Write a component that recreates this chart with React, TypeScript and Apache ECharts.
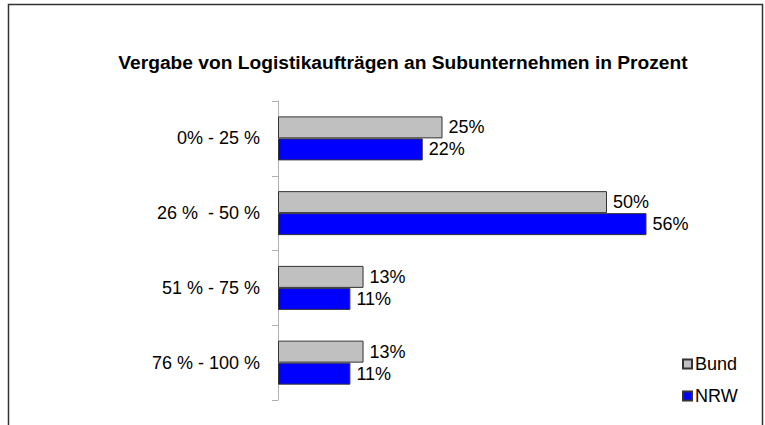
import React, { useEffect, useRef } from "react";
import * as echarts from "echarts";

const categories = ["0% - 25 %", "26 %  - 50 %", "51 % - 75 %", "76 % - 100 %"];
const bundValues = [25, 50, 13, 13];
const nrwValues = [22, 56, 11, 11];
const seriesNames = ["Bund", "NRW"];
const titleText = "Vergabe von Logistikaufträgen an Subunternehmen in Prozent";

export default function App() {
  const ref = useRef<HTMLDivElement>(null);
  useEffect(() => {
    if (!ref.current) return;
    const chart = echarts.init(ref.current, null, { renderer: "svg" });
    const font = "'Liberation Sans', Arial, sans-serif";
    const labelCfg = {
      show: true,
      position: "right",
      distance: 6,
      formatter: "{c}%",
      color: "#000",
      fontSize: 18,
      fontFamily: font,
    };
    chart.setOption({
      animation: false,
      backgroundColor: "#fff",
      title: {
        text: titleText,
        left: 398,
        textAlign: "center",
        top: 48,
        textStyle: { fontSize: 19.2, fontWeight: "bold", color: "#000", fontFamily: font },
      },
      legend: {
        orient: "vertical",
        left: 677,
        top: 350,
        itemWidth: 9,
        itemHeight: 9,
        itemGap: 14,
        icon: "rect",
        textStyle: { fontSize: 18, color: "#000", fontFamily: font, padding: [0, 0, 0, -2] },
        data: seriesNames,
      },
      grid: { left: 278, top: 101, height: 299, width: 394.8 },
      xAxis: {
        type: "value",
        min: 0,
        max: 60,
        show: false,
      },
      yAxis: {
        type: "category",
        inverse: true,
        data: categories,
        axisLine: { show: true, lineStyle: { color: "#B0B0B0", width: 1 } },
        axisTick: { show: true, length: 6, lineStyle: { color: "#B0B0B0" } },
        axisLabel: { margin: 18, fontSize: 18, color: "#000", fontFamily: font },
        splitLine: { show: false },
      },
      series: [
        {
          name: seriesNames[0],
          type: "bar",
          data: bundValues,
          barWidth: 22,
          barGap: "0%",
          itemStyle: { color: "#C0C0C0", borderColor: "#333", borderWidth: 1 },
          label: labelCfg,
        },
        {
          name: seriesNames[1],
          type: "bar",
          data: nrwValues,
          barWidth: 22,
          barGap: "0%",
          itemStyle: { color: "#0000FF", borderColor: "#333", borderWidth: 1 },
          label: labelCfg,
        },
      ],
      graphic: [
        {
          type: "rect",
          shape: { x: 8.5, y: 4.5, width: 754, height: 440 },
          style: { fill: "none", stroke: "#333", lineWidth: 1.5 },
          silent: true,
        },
      ],
    });
    return () => chart.dispose();
  }, []);
  return (
    <div
      ref={ref}
      style={{ position: "fixed", left: 0, top: 0, width: 765, height: 425 }}
    />
  );
}
